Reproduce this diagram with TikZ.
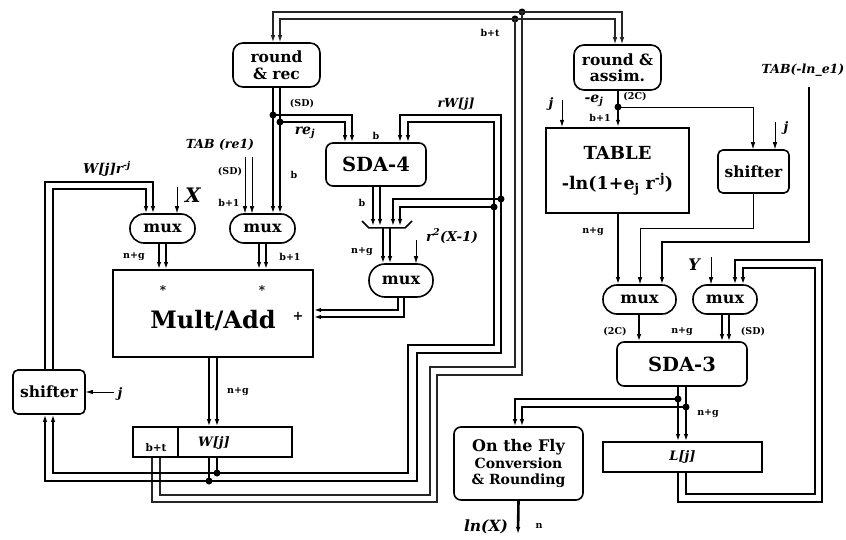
\documentclass[tikz,border=0pt]{standalone}
\usepackage{fontspec}
\setmainfont{DejaVu Serif}
\usetikzlibrary{arrows.meta}
\newcommand{\fsz}[1]{\fontsize{#1}{#1}\selectfont}
\tikzset{
  blk/.style={draw,line width=1.6pt,rounded corners=7pt,align=center,inner sep=0pt,
    font=\bfseries\fsz{15.5}},
  sqblk/.style={draw,line width=2.4pt,align=center,inner sep=0pt,font=\bfseries\fsz{18}},
  muxblk/.style={draw,line width=1.6pt,rounded corners=14pt,minimum width=65pt,
    minimum height=29pt,inner sep=0pt,font=\bfseries\fsz{16}},
  wthin/.style={line width=0.7pt},
  wbt/.style={line width=1.1pt,black!85},
  wmed/.style={line width=1.5pt},
  wthk/.style={line width=2.6pt},
  lbl/.style={font=\bfseries\fsz{9.5},inner sep=0pt},
  ilbl/.style={font=\bfseries\itshape\fsz{12.5},inner sep=0pt},
  dot/.style={circle,fill,inner sep=0pt,minimum size=7pt},
  >={Latex[length=7pt,width=4.5pt]}
}
\begin{document}
\begin{tikzpicture}[x=1pt,y=-1pt]
\useasboundingbox (0,0) rectangle (846,540);
% blocks
\node[blk,rounded corners=10pt,minimum width=87pt,minimum height=44pt] (rrec) at (276.5,65) {round\\[1pt]\& rec};
\node[blk,rounded corners=10pt,minimum width=87pt,minimum height=45pt] (rasm) at (617.5,67.5) {round \&\\[1pt]assim.};
\node[blk,minimum width=100pt,minimum height=43pt,font=\bfseries\fsz{19.5}] (sda4) at (376,164.5) {SDA-4};
\node[sqblk,minimum width=143pt,minimum height=85pt] (tab) at (617.5,170.5)
  {TABLE\\[12pt]{\fsz{17.5}-ln(1+e\textsubscript{j} r\textsuperscript{-j})}};
\node[blk,rounded corners=5pt,minimum width=71pt,minimum height=43pt] (shr) at (753.5,171.5) {shifter};
\node[blk,rounded corners=5pt,minimum width=72pt,minimum height=44pt] (shl) at (49,392) {shifter};
\node[muxblk] (mux1) at (162.5,228.5) {mux};
\node[muxblk] (mux2) at (262.5,228.5) {mux};
\node[sqblk,line width=2pt,minimum width=200pt,minimum height=87pt] (mult) at (213,313.5) {};
\node[font=\bfseries\fsz{24},inner sep=0pt] (multt) at (213,320) {Mult/Add};
\node[lbl,font=\bfseries\fsz{12}] (st1) at (163,290) {*};
\node[lbl,font=\bfseries\fsz{12}] (st2) at (262,290) {*};
\node[lbl,font=\bfseries\fsz{13}] (pl) at (298,316) {+};
\node[muxblk,minimum width=64pt,minimum height=33pt,rounded corners=16pt] (mux3) at (401,280.5) {mux};
\node[draw,line width=1.6pt,minimum width=159pt,minimum height=30pt,inner sep=0pt] (wj) at (212.5,442) {};
\draw[line width=1.2pt] (178,0 |- wj.north) -- (178,0 |- wj.south);
\node[ilbl,font=\bfseries\itshape\fsz{13}] (wjt) at (214,443) {W[j]};
\node[lbl,font=\bfseries\fsz{10.5}] (bt) at (156,448) {b+t};
\node[muxblk,minimum width=73pt] (mux4) at (639.5,299.5) {mux};
\node[muxblk,minimum width=64pt] (mux5) at (725,299.5) {mux};
\node[blk,minimum width=130pt,minimum height=44pt,font=\bfseries\fsz{19.5}] (sda3) at (682,364) {SDA-3};
\node[blk,minimum width=129pt,minimum height=73pt,font=\bfseries\fsz{16}] (otf) at (518.5,463.5)
  {On the Fly\\[1pt]{\fsz{14}Conversion}\\{\fsz{14}\& Rounding}};
\node[draw,line width=2pt,minimum width=159pt,minimum height=30pt,inner sep=0pt,
  font=\bfseries\itshape\fsz{13}] (lj) at (682.5,457) {L[j]};

% junction dots
\node[dot] (d1) at (273,115) {};
\node[dot] (d2) at (280,122) {};
\node[dot] (d3) at (522,12) {};
\node[dot] (d4) at (515,19) {};
\node[dot] (d5) at (501,199) {};
\node[dot] (d6) at (494,207) {};
\node[dot] (d7) at (209,481) {};
\node[dot] (d8) at (217,473) {};
\node[dot] (d9) at (618,107) {};
\node[dot] (d10) at (678,399) {};
\node[dot] (d11) at (686,407) {};

% b+t bus round the top
\draw[wbt] (152,0 |- wj.south) |- (437,502) |- (522,375) -- (d3.center);
\draw[wbt] (160,0 |- wj.south) |- (430,495) |- (515,367) -- (d4.center);
\draw[wbt,->] (d3.center) -| (273,0 |- rrec.north);
\draw[wbt,->] (d4.center) -| (280,0 |- rrec.north);
\draw[wbt,->] (d3.center) -| (622,0 |- rasm.north);
\draw[wbt,->] (d4.center) -| (615,0 |- rasm.north);
\node[lbl] (lbt) at (490,33) {b+t};

% round & rec outputs
\draw[wmed,->] (273,0 |- rrec.south) -- (273,0 |- mux2.north);
\draw[wmed,->] (280,0 |- rrec.south) -- (280,0 |- mux2.north);
\draw[wmed,->] (d1.center) -| (352,0 |- sda4.north);
\draw[wmed,->] (d2.center) -| (345,0 |- sda4.north);
\node[lbl] (lsd1) at (302,104) {(SD)};
\node[ilbl,font=\bfseries\itshape\fsz{14}] (lre) at (305,133) {re\textsubscript{j}};
\node[lbl] (lb1) at (294,175) {b};
\node[lbl] (lb2) at (376,136) {b};

% rW[j] into SDA-4
\draw[wmed,->] (d5.center) |- (400,115) -- (400,0 |- sda4.north);
\draw[wmed,->] (d6.center) |- (408,122) -- (408,0 |- sda4.north);
\node[ilbl] (lrw) at (456,104) {rW[j]};

% merger
\draw[wmed] (362,221) -- (369,228) -- (405,228) -- (412,221);
\coordinate (mrg) at (387,228);
\draw[wmed,->] (373,0 |- sda4.south) -- (373,226);
\draw[wmed,->] (380,0 |- sda4.south) -- (380,226);
\node[lbl] (lb3) at (362,203) {b};
\draw[wthk,->] (d5.center) -| (393,226);
\draw[wthk,->] (d6.center) -| (400,226);
\draw[wthk,->] (383,0 |- mrg) -- (383,0 |- mux3.north);
\draw[wthk,->] (390,0 |- mrg) -- (390,0 |- mux3.north);
\node[lbl] (lng1) at (362,252) {n+g};
\draw[wthin,->] (416,240) -- (416,0 |- mux3.north);
\node[ilbl,font=\bfseries\itshape\fsz{13.5}] (lr2) at (452,236) {r\textsuperscript{2}(X-1)};

% mux3 into Mult/Add
\draw[wthk,->] (398,0 |- mux3.south) |- (mult.east |- 0,310);
\draw[wthk,->] (404,0 |- mux3.south) |- (mult.east |- 0,317);

% W loop
\draw[wthk] (209,0 |- wj.south) -- (d7.center);
\draw[wthk] (217,0 |- wj.south) -- (d8.center);
\draw[wthk,->] (d7.center) -| (45,0 |- shl.south);
\draw[wthk,->] (d8.center) -| (53,0 |- shl.south);
\draw[wthk] (d7.center) -| (417,353) -| (d5.center);
\draw[wthk] (d8.center) -| (408,345) -| (d6.center);
\draw[wthk,->] (45,0 |- shl.north) |- (153,182) -- (153,0 |- mux1.north);
\draw[wthk,->] (53,0 |- shl.north) |- (146,189) -- (146,0 |- mux1.north);
\node[ilbl,font=\bfseries\itshape\fsz{13.5}] (lwr) at (107,169) {W[j]r\textsuperscript{-j}};
\draw[wthin,<-] (shl.east) -- (114,392);
\node[ilbl,font=\bfseries\itshape\fsz{13}] (lj1) at (120,394) {j};

% mux inputs and outputs
\draw[wthin,->] (177,187) -- (177,0 |- mux1.north);
\node[ilbl,font=\bfseries\itshape\fsz{20}] (lx) at (193,195) {X};
\draw[wthin,->] (245,157) -- (245,0 |- mux2.north);
\draw[wthin,->] (252,157) -- (252,0 |- mux2.north);
\node[ilbl] (ltab) at (220,145) {TAB (re1)};
\node[lbl] (lsd2) at (230,172) {(SD)};
\node[lbl] (lb4) at (229,203) {b+1};
\draw[wthk,->] (159,0 |- mux1.south) -- (159,0 |- mult.north);
\draw[wthk,->] (166,0 |- mux1.south) -- (166,0 |- mult.north);
\node[lbl] (lng2) at (134,257) {n+g};
\draw[wmed,->] (259,0 |- mux2.south) -- (259,0 |- mult.north);
\draw[wmed,->] (266,0 |- mux2.south) -- (266,0 |- mult.north);
\node[lbl] (lb5) at (290,257) {b+1};
\draw[wthk,->] (209,0 |- mult.south) -- (209,0 |- wj.north);
\draw[wthk,->] (217,0 |- mult.south) -- (217,0 |- wj.north);
\node[lbl] (lng3) at (238,392) {n+g};

% right side
\draw[wmed,->] (rasm.south -| d9) -- (tab.north -| d9);
\draw[wthin,->] (d9.center) -| (753,0 |- shr.north);
\node[lbl] (l2c1) at (635,97) {(2C)};
\node[ilbl,font=\bfseries\itshape\fsz{14}] (le) at (594,101) {-e\textsubscript{j}};
\node[lbl] (lb6) at (600,118) {b+1};
\draw[wthin,->] (562,100) -- (562,0 |- tab.north);
\node[ilbl,font=\bfseries\itshape\fsz{13}] (lj2) at (551,104) {j};
\draw[wthin,->] (775,122) -- (775,0 |- shr.north);
\node[ilbl,font=\bfseries\itshape\fsz{13}] (lj3) at (786,128) {j};
\draw[wthk,->] (618,0 |- tab.south) -- (618,0 |- mux4.north);
\node[lbl] (lng4) at (593,232) {n+g};
\draw[wthin,->] (753,0 |- shr.south) |- (640,228) -- (640,0 |- mux4.north);
\node[ilbl] (ltab2) at (803,70) {TAB(-ln\_e1)};
\draw[wmed,->] (809,87) |- (662,242) -- (662,0 |- mux4.north);
\draw[wthin,->] (711,257) -- (711,0 |- mux5.north);
\node[ilbl,font=\bfseries\itshape\fsz{16}] (ly) at (694,265) {Y};
\draw[wthk,->] (678,0 |- lj.south) |- (822,502) |- (735,260) -- (735,0 |- mux5.north);
\draw[wthk,->] (686,0 |- lj.south) |- (815,494) |- (743,268) -- (743,0 |- mux5.north);
\draw[wthk,->] (639,0 |- mux4.south) -- (639,0 |- sda3.north);
\draw[wthk,->] (722,0 |- mux5.south) -- (722,0 |- sda3.north);
\draw[wthk,->] (729,0 |- mux5.south) -- (729,0 |- sda3.north);
\node[lbl] (l2c2) at (615,332) {(2C)};
\node[lbl] (lng5) at (682,332) {n+g};
\node[lbl] (lsd3) at (753,332) {(SD)};
\draw[wthk,->] (678,0 |- sda3.south) -- (678,0 |- lj.north);
\draw[wthk,->] (686,0 |- sda3.south) -- (686,0 |- lj.north);
\draw[wthk,->] (d10.center) -| (515,0 |- otf.north);
\draw[wthk,->] (d11.center) -| (522,0 |- otf.north);
\node[lbl] (lng6) at (708,414) {n+g};
\draw[wthk,->] (otf.south) -- (518,534);
\node[ilbl,font=\bfseries\itshape\fsz{15.5}] (lln) at (486,527) {ln(X)};
\node[lbl] (ln) at (539,526) {n};
\end{tikzpicture}
\end{document}
